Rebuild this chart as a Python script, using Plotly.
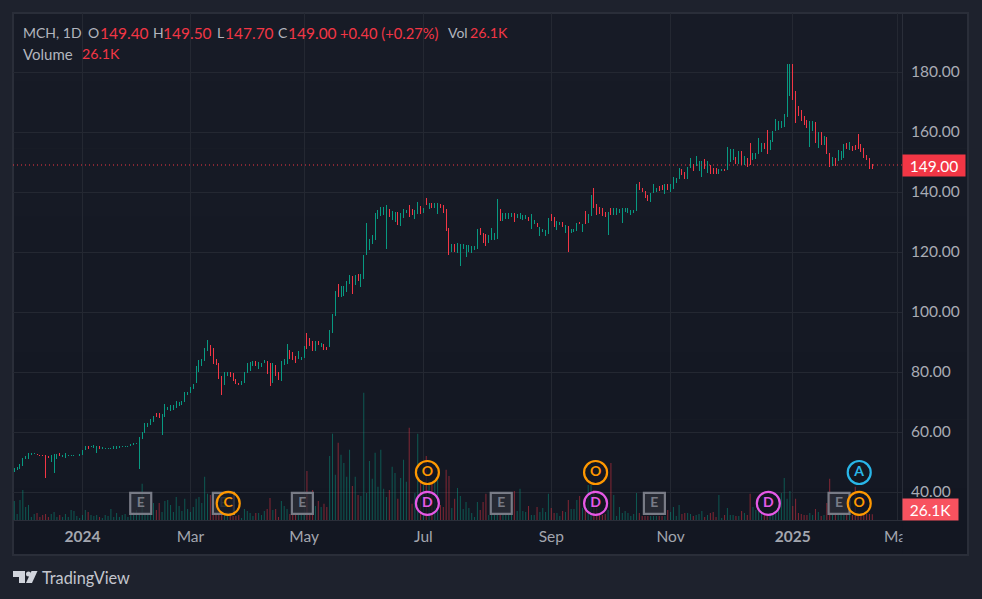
import plotly.graph_objects as go

bar_highs = [
47.9,48.4,49.3,51.2,52,52.9,53,53,52.7,52.3,
52.5,52.3,52,52.5,52.6,52.6,52.9,52.4,52.9,52.4,
52.4,52.4,52.4,52.6,54,55.4,55.3,55.3,55.7,55.3,
55.3,54.9,54.6,54.6,54.6,55.3,55.2,55.2,55.3,55.3,
55.3,56,56.2,56.4,58.3,60,62.9,63.1,64.3,65.4,
66.5,66.5,66,69.5,68.4,68.9,69.1,70.2,69.9,70.4,
73.3,73.3,74.9,75.9,82,84,84.3,88,90.7,89,
88,84.3,83,78.7,80,80,80,79.7,77.7,76.3,
77,80,83,83.3,83.7,83.7,83.3,83,84,83.7,
83,83,82.3,80,83.7,84.3,89.3,87.3,86.7,85.3,
87,85,88.7,93,91.3,90.3,90.3,90.3,89.7,89.3,
88.3,94,99.3,107,109.3,108.7,108.7,110.3,112.3,112,
112.3,112.7,112.7,119,129.7,124.3,125.7,133,134,135,
135,135.7,134.3,133.7,133.3,133.3,133,134.3,134,135.7,
134.3,134,136.7,135.3,134.7,138,136.3,136.3,136.3,136.3,
136,135.7,134.3,128,122.7,122.7,122.9,122.7,122.6,122.3,
122.3,122,122,127.7,128,126.3,126,125.7,128,126.3,
137.7,134.3,133,133,133,133,133,132.7,133,132.3,
132.3,131.7,132.7,130.7,129.7,128.3,127.7,127.3,131.3,132.7,
131.7,130.3,130,130,129,128.7,127.7,127.7,129.7,130,
129.3,133.7,132.7,139,141.3,136,135,134.7,133.3,133.3,
134.7,134.7,134.7,134.3,134.7,134.7,134.7,134,134,142.7,
143.3,141.3,140.3,139,139.7,142.7,141.3,142,142.3,142.7,
142.7,142.7,145,144.7,148,147.7,146.7,148.3,151.3,149.3,
152,150.3,150.3,151,150.3,149,148,148,147.7,147.7,
147.7,155,154.3,154.3,151.8,153.7,153.7,151.9,151.2,156.3,
152.9,152.9,158,156.3,156.3,160.7,157.3,160.3,164.3,163.7,
163.7,166,182.7,182.7,182.7,173.7,168.7,167.3,165.3,164,
163.7,163.7,163.3,160,160,158.7,158.3,153,151.7,151.3,
154,153.7,156,156.3,156.7,155.3,155.7,159.3,156,154.7,
152.3,151.3,149.5]

bar_lows = [
46.8,47.3,47.7,48.7,51.1,51,52.4,52.7,52.2,51.9,
52.1,44.8,51.3,49.9,46.4,51.1,52,51.7,51.3,52,
52.1,52.1,52.2,52.1,52.3,54,54.2,55,54.6,53,
54.5,54.3,54.3,54.3,54.3,54.3,54.5,54.7,54.9,54.9,
54.9,55.3,55.6,56,47.7,57.7,59.8,61.8,62.3,63.4,
65.1,64.7,59.1,65.1,67.5,67,67.4,67.9,68.7,69,
70.1,72.3,73,74.3,76.3,80,82,83.6,87,85.3,
82.7,82.3,77.7,72.3,75.7,78.7,78.3,77,76,75.7,
75.7,76.3,79.7,80.3,82,82,81,81.7,83,79.3,
75.3,76.3,78.7,77.3,77,82.3,82.7,84.3,84,83,
84.3,84,84.7,87.7,88.7,87,87,89,88.3,87.3,
87.3,88.3,93,98.7,105,105,105.3,106.7,109.3,106,
109,110.3,108.3,111,119,120.7,122.7,124,131,132,
132.3,121,131.7,130.7,130,129,128.7,131.3,133,131.7,
132.3,131,132.7,132.7,133,135.7,134.3,134.7,134.7,132.7,
134.7,133,127,119,120,120,119.7,115.3,121,118.3,
120,119.7,120.7,121,125.7,123,122,123,124,124,
124.3,130.3,130.3,131,131,131.7,130,131.3,131,130.7,
131,130.3,127.7,129.3,128.3,125.3,126.7,125.3,126,130.3,
128.3,127.3,129,128.3,126.3,120,126.3,126.7,127,129.3,
126.7,129.3,129.7,132,134.7,132.3,132.7,132,131.7,125.7,
132.3,132.3,132.3,133,129.7,133.3,133,132.4,133.1,133.8,
140.7,140,138,137,136.7,139.7,140,140.3,140.7,139.3,
140.7,140,141,143,144.3,145.7,144.3,144.3,148,147,
148.7,147,145,147.7,146.3,146,146,146,146,147,
147,147.3,150.1,150.7,149.2,149.2,149,149,148.4,149,
150.7,150.9,152.7,153.3,154.2,152.7,154,156.7,160.3,160.7,
161.3,161.6,165.1,172,170.7,163.1,165.3,163.7,162.3,161.2,
155,160.3,156.3,154.7,155.7,155.7,152.7,148.3,148.7,148.7,
150.3,150.7,151.3,154.3,154,153.7,154,154.3,153.3,151.3,
150.7,147.7,147.7]

bar_dirs = (
"ggggggggrr" "rrrgggrggg" "ggggggrggg" "rggggggggg" "gggggggggg"
"rrgggggggg" "gggggggggr" "rrrrggrrrr" "gggggrgggr" "rgrrgggrrr"
"gggrrrgrgr" "rgggrggggr" "grgggggggg" "ggrggrgggr" "rggrgrgrgg"
"rrrrgrgggg" "ggggrrrggg" "grggggrggg" "grggrggggr" "rggrgrgggr"
"grggrrrrrg" "rggggggggg" "rrrrgggrrg" "rggggrrggr" "gggrgrrrgg"
"rgggrgrgrr" "ggggrrgggg" "ggggrrrrrr" "ggrgrgrrgr" "gggrgrrrrrrrr"
)

volumes_k = [
87,28,92,138,60,69,14,28,32,14,
23,28,14,28,37,14,23,14,28,14,
46,41,18,9,23,46,37,23,18,23,
14,9,23,18,51,14,32,14,23,28,
14,37,37,46,28,166,23,28,28,78,
46,78,37,87,92,69,37,106,64,41,
97,51,37,60,97,106,78,198,120,115,
23,23,23,23,23,18,23,18,18,23,
9,51,41,32,18,32,32,23,41,51,
101,46,51,14,87,64,51,28,23,23,
23,23,23,225,23,138,64,87,60,74,
60,294,396,207,354,299,262,198,322,156,
198,115,110,584,124,271,189,308,152,322,
143,106,138,244,216,97,193,276,175,423,
74,124,396,184,161,294,166,166,184,184,
69,60,230,202,55,97,147,110,51,83,
55,32,14,83,46,83,120,23,23,23,
23,23,23,23,23,23,133,41,143,41,
37,64,23,23,60,37,55,37,120,55,
32,32,18,41,37,92,51,51,92,110,
55,92,161,161,138,55,37,23,28,46,
262,115,18,60,32,41,32,18,28,124,
32,18,18,18,18,18,18,18,18,18,
46,37,60,18,69,28,32,32,28,18,
23,28,41,14,23,32,37,14,115,9,
23,55,23,23,18,18,41,32,23,120,
60,46,69,37,23,23,23,23,37,78,
124,193,97,133,64,97,32,28,23,23,
32,23,51,37,18,23,78,189,23,23,
23,23,23,23,23,23,152,28,28,28,
28,28,26.1]

tick_positions = [24, 62, 102, 144, 189, 231, 274, 311]
tick_labels = ["<b>2024</b>", "Mar", "May", "Jul", "Sep", "Nov", "<b>2025</b>", "Mar"]
price_ticks = [40, 60, 80, 100, 120, 140, 160, 180]
last_close = 149.0
event_e_x = [44.5, 73.6, 101.4, 171.4, 225.3, 290.3]
event_o_x = [145.4, 204.6, 297.4]
event_o_rows = [46.5, 46.5, 36.2]
event_d_x = [145.4, 204.6, 265.4]
event_c_x = [75.3]
event_a_x = [297.4]
LOW_ROW = 36.2
HIGH_ROW = 46.5

UP, DOWN = "#089981", "#f23645"
VOL_UP, VOL_DOWN = "rgba(8,153,129,0.5)", "rgba(242,54,69,0.5)"
GRID, FRAME = "#242832", "#2a2e39"
FONT = "Lato"
W, H = 982, 599
PL, PR, PT, PB = 13, 902, 13, 520

def px(x): return (x - PL) / (PR - PL)
def py(y): return 1 - (y - PT) / (PB - PT)

N = len(bar_highs)
idx = list(range(N))
opens = [l if d == "g" else h for h, l, d in zip(bar_highs, bar_lows, bar_dirs)]
closes = [h if d == "g" else l for h, l, d in zip(bar_highs, bar_lows, bar_dirs)]
vol_colors = [VOL_UP if d == "g" else VOL_DOWN for d in bar_dirs]

fig = go.Figure()
fig.add_bar(x=idx, y=volumes_k, width=0.36, marker=dict(color=vol_colors, line_width=0),
            xaxis="x", yaxis="y", hoverinfo="skip", showlegend=False)
fig.add_trace(go.Ohlc(x=idx, open=opens, high=bar_highs, low=bar_lows, close=closes,
                      tickwidth=0, xaxis="x", yaxis="y2", hoverinfo="skip", showlegend=False,
                      increasing=dict(line=dict(color=UP, width=1)),
                      decreasing=dict(line=dict(color=DOWN, width=1))))

def events(xs, rows, letter, color, symbol, size, fill):
    fig.add_scatter(x=xs, y=rows, mode="markers+text", text=[letter] * len(xs),
                    textposition="middle center", xaxis="x", yaxis="y2", hoverinfo="skip",
                    showlegend=False, cliponaxis=False,
                    textfont=dict(family=FONT, size=14, color=color, weight="bold"),
                    marker=dict(symbol=symbol, size=size, color=fill, line=dict(color=color, width=2.2)))

E_GRAY = "#787b86"
events(event_e_x, [LOW_ROW] * len(event_e_x), "E", E_GRAY, "square", 21, "rgba(45,48,58,0.75)")
CIRC_BG = "rgba(19,23,34,0.75)"
events(event_c_x, [LOW_ROW], "C", "#ff9800", "circle", 23, CIRC_BG)
events(event_o_x, event_o_rows, "O", "#ff9800", "circle", 23, CIRC_BG)
events(event_d_x, [LOW_ROW] * len(event_d_x), "D", "#e659e6", "circle", 23, CIRC_BG)
events(event_a_x, [HIGH_ROW], "A", "#29b6e8", "circle", 23, CIRC_BG)

shapes = []
band_top, band_bot = (0x17, 0x1b, 0x26), (0x13, 0x17, 0x22)
bands = 8
for i in range(bands):
    t = i / (bands - 1)
    c = tuple(round(a + (b - a) * t) for a, b in zip(band_top, band_bot))
    y0 = PT + (555 - PT) * i / bands
    y1 = PT + (555 - PT) * (i + 1) / bands
    shapes.append(dict(type="rect", xref="paper", yref="paper", layer="below", line_width=0,
                       x0=px(13), x1=px(968), y0=py(y1), y1=py(y0), fillcolor="#%02x%02x%02x" % c))
shapes.append(dict(type="rect", xref="paper", yref="paper", layer="below",
                   x0=px(13), x1=px(968), y0=py(555), y1=py(13), line=dict(color=FRAME, width=2)))
# clips the last month label at the price scale edge
shapes.append(dict(type="rect", xref="paper", yref="paper", layer="above", line_width=0,
                   x0=px(902.5), x1=px(967), y0=py(554), y1=py(521), fillcolor="#131722"))
# last price line
shapes.append(dict(type="line", xref="paper", yref="y2", layer="above", x0=0, x1=1,
                   y0=last_close, y1=last_close, line=dict(color=DOWN, width=1, dash="1px,3px")))
# logo
def poly(points, color):
    d = "M" + " L".join(f"{px(x):.5f},{py(y):.5f}" for x, y in points) + " Z"
    return dict(type="path", xref="paper", yref="paper", path=d, fillcolor=color, line_width=0, layer="above")
LOGO = "#d1d4dc"
shapes.append(poly([(13, 571), (25, 571), (25, 583), (19, 583), (19, 577), (13, 577)], LOGO))
shapes.append(poly([(31.5, 571), (37.5, 571), (32, 583), (26, 583)], LOGO))
shapes.append(dict(type="circle", xref="paper", yref="paper", layer="above", line_width=0, fillcolor=LOGO,
                   x0=px(26), x1=px(31), y0=py(576.5), y1=py(571.5)))

TXT, RED = "#b2b5be", "#f23645"
legend_tokens = [
    (23, 33, "MCH, 1D", TXT, 14), (88.3, 33, "O", TXT, 14), (100, 33, "149.40", RED, 15.5),
    (152.7, 33, "H", TXT, 14), (163.3, 33, "149.50", RED, 15.5), (216.7, 33, "L", TXT, 14),
    (225, 33, "147.70", RED, 15.5), (278.3, 33, "C", TXT, 14), (288.3, 33, "149.00", RED, 15.5),
    (340, 33, "+0.40 (+0.27%)", RED, 14.7), (448, 33, "Vol", TXT, 14), (470, 33, "26.1K", RED, 14.2),
    (23, 54, "Volume", TXT, 15), (81.7, 54, "26.1K", RED, 14.2),
]
annotations = [dict(xref="paper", yref="paper", x=px(x), y=py(y), text=t, showarrow=False,
                    xanchor="left", yanchor="middle", xshift=-2,
                    font=dict(family=FONT, size=s, color=c)) for x, y, t, c, s in legend_tokens]
annotations.append(dict(xref="paper", yref="y2", x=px(902), y=last_close, text="149.00", showarrow=False,
                        xanchor="left", yanchor="middle", width=62, height=21, bgcolor=DOWN,
                        borderpad=0, align="center", font=dict(family=FONT, size=15.5, color="#ffffff")))
annotations.append(dict(xref="paper", yref="paper", x=px(902), y=py(509.5), text="26.1K", showarrow=False,
                        xanchor="left", yanchor="middle", width=55, height=21, bgcolor="#f7525f",
                        borderpad=0, align="center", font=dict(family=FONT, size=15.5, color="#ffffff")))
annotations.append(dict(xref="paper", yref="paper", x=px(40), y=py(577.5), text="TradingView", showarrow=False,
                        xanchor="left", yanchor="middle", font=dict(family=FONT, size=16.3, color="#c4c6ce")))

sp = 858 / (N - 1)
x_low = (PL - 14.3) / sp
x_high = (PR - 14.3) / sp

fig.update_layout(
    width=W, height=H, autosize=False, margin=dict(l=PL, r=W - PR, t=PT, b=H - PB, pad=0),
    paper_bgcolor="#1e222d", plot_bgcolor="rgba(0,0,0,0)", showlegend=False, hovermode=False,
    barmode="overlay", font=dict(family=FONT, size=14, color=TXT), shapes=shapes, annotations=annotations,
    xaxis=dict(range=[x_low, x_high], tickmode="array", tickvals=tick_positions, ticktext=tick_labels,
               showgrid=True, gridcolor=GRID, gridwidth=1, zeroline=False, showline=True,
               linecolor=FRAME, linewidth=1, ticks="outside", ticklen=2, tickcolor="rgba(0,0,0,0)",
               tickfont=dict(family=FONT, size=15.5, color="#a3a6af"), rangeslider=dict(visible=False),
               tickangle=0),
    yaxis=dict(range=[0, 507 / 0.218], visible=False, fixedrange=True),
    yaxis2=dict(range=[30.67, 199.67], overlaying="y", side="right", tickmode="array",
                tickvals=price_ticks, ticktext=[f"{v:.2f}" for v in price_ticks],
                showgrid=True, gridcolor=GRID, gridwidth=1, zeroline=False, showline=True,
                linecolor=FRAME, linewidth=1, ticks="outside", ticklen=5, tickcolor="rgba(0,0,0,0)",
                tickfont=dict(family=FONT, size=15.5, color="#a9acb5")),
)
page_js = """
document.documentElement.style.background = '#1e222d';
document.body.style.margin = '0';
document.querySelectorAll('.ohlc path').forEach(function (p) { p.style.shapeRendering = 'crispEdges'; });
"""
fig.write_html("out.html", post_script=page_js, config=dict(displayModeBar=False, staticPlot=True))
